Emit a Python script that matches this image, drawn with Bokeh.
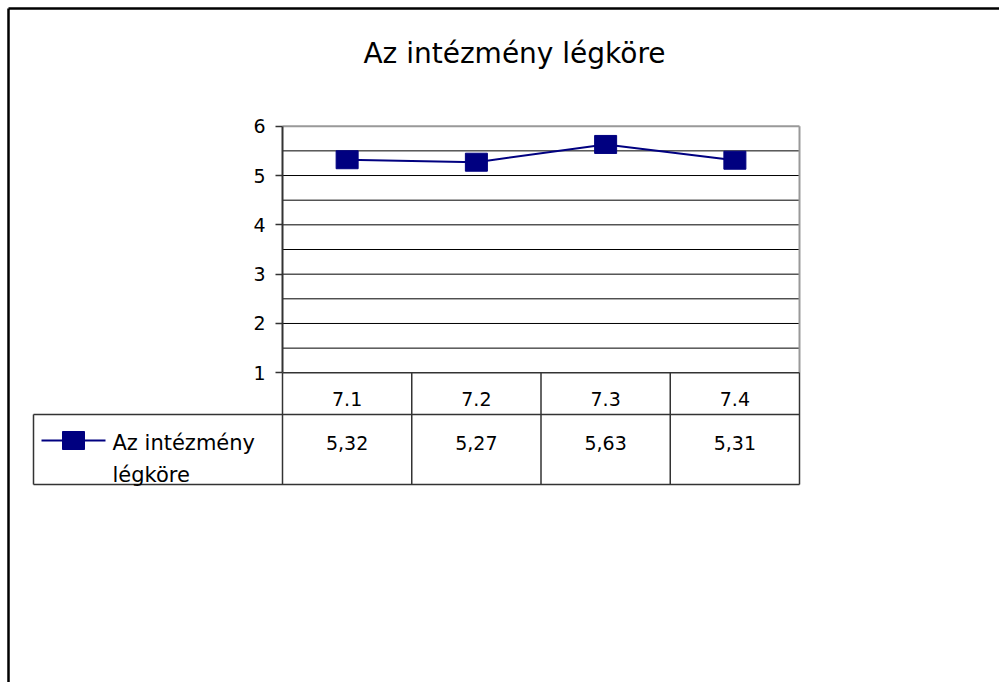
from bokeh.plotting import figure
from bokeh.models import Range1d, LinearAxis, FixedTicker
from bokeh.core.properties import value
from bokeh.embed import file_html
from bokeh.resources import INLINE

# ---------------- data ----------------
chart_title = "Az intézmény légköre"
series_name = "Az intézmény légköre"
categories = ["7.1", "7.2", "7.3", "7.4"]
values = [5.32, 5.27, 5.63, 5.31]
value_labels = ["5,32", "5,27", "5,63", "5,31"]
y_ticks = [1, 2, 3, 4, 5, 6]

# ---------------- layout (page pixels) ----------------
W, H = 999, 682
OX, OY = 0, 0
PLOT_L, PLOT_R = 282, 799
Y_TOP_PX, Y_BOT_PX = 125.7, 372.3
FONT = "DejaVu Sans"
NAVY = "#000080"
DARK = "#333333"

y_min, y_max = y_ticks[0], y_ticks[-1]
n = len(categories)
col_w = (PLOT_R - PLOT_L) / n
ppu = (Y_BOT_PX - Y_TOP_PX) / (y_max - y_min)


def dx(px):
    return (px - PLOT_L) / col_w


def dy(py):
    return y_min + (Y_BOT_PX - py) / ppu


p = figure(width=W, height=H,
           x_range=Range1d(dx(OX), dx(OX + W)),
           y_range=Range1d(dy(OY + H), dy(OY)),
           output_backend="svg", toolbar_location=None,
           min_border=0, x_axis_type=None, y_axis_type=None)
p.grid.visible = False
p.outline_line_color = None
p.background_fill_color = "white"
p.border_fill_color = "white"

# outer chart border (left and top edges visible)
p.segment(x0=[dx(8), dx(8)], y0=[dy(OY + H), dy(8)],
          x1=[dx(8), dx(OX + W)], y1=[dy(8), dy(8)],
          line_color="black", line_width=2.5)

# title
p.text(x=[dx(514)], y=[dy(53)], text=[chart_title],
       text_font=value(FONT), text_font_size="28px",
       text_align="center", text_baseline="alphabetic", text_color="black")

# horizontal grid lines (major + half steps)
grid_ys = [t + 0.5 for t in y_ticks[:-1]] + y_ticks[1:-1]
p.segment(x0=[0] * len(grid_ys), x1=[n] * len(grid_ys), y0=grid_ys, y1=grid_ys,
          line_color="black", line_width=1)
# plot-area border: top & right grey
p.segment(x0=[0, n], x1=[n, n], y0=[y_max, y_min], y1=[y_max, y_max],
          line_color="#999999", line_width=2)

# y axis
yaxis = LinearAxis(fixed_location=0, bounds=(y_min, y_max),
                   ticker=FixedTicker(ticks=y_ticks))
yaxis.axis_line_color = DARK
yaxis.axis_line_width = 2
yaxis.major_tick_line_color = DARK
yaxis.major_tick_line_width = 1.5
yaxis.major_tick_out = 7
yaxis.major_tick_in = 0
yaxis.minor_tick_line_color = None
yaxis.major_label_standoff = 10
yaxis.major_label_text_font = FONT
yaxis.major_label_text_font_size = "19px"
yaxis.major_label_text_color = "black"
p.add_layout(yaxis, "left")

# data table grid
t1, t2, t3 = dy(414), dy(484), dx(33)
xs_cols = list(range(n + 1))
p.segment(x0=xs_cols, x1=xs_cols, y0=[y_min] * len(xs_cols), y1=[t2] * len(xs_cols),
          line_color=DARK, line_width=1.5)
p.segment(x0=[0, t3, t3, t3], x1=[n, n, n, t3], y0=[y_min, t1, t2, t1], y1=[y_min, t1, t2, t2],
          line_color=DARK, line_width=1.5)

cx = [i + 0.5 for i in range(n)]
p.text(x=cx, y=[dy(398)] * n, text=categories, text_font=value(FONT),
       text_font_size="19px", text_align="center", text_baseline="alphabetic")
p.text(x=cx, y=[dy(442)] * n, text=value_labels, text_font=value(FONT),
       text_font_size="19px", text_align="center", text_baseline="alphabetic")

# legend key in table
name_lines = series_name.rsplit(" ", 1)
p.line(x=[dx(41), dx(105)], y=[dy(440)] * 2, line_color=NAVY, line_width=2)
p.rect(x=[dx(73)], y=[dy(440)], width=22, height=18, width_units="screen",
       height_units="screen", fill_color=NAVY, line_color=NAVY)
p.text(x=[dx(112)] * 2, y=[dy(442), dy(474.5)], text=name_lines, text_font=value(FONT),
       text_font_size="21px", text_align="left", text_baseline="alphabetic")

# series
p.line(x=cx, y=values, line_color=NAVY, line_width=2)
p.rect(x=cx, y=values, width=22, height=18, width_units="screen",
       height_units="screen", fill_color=NAVY, line_color=NAVY)

open("out.html", "w").write(file_html(p, INLINE))
